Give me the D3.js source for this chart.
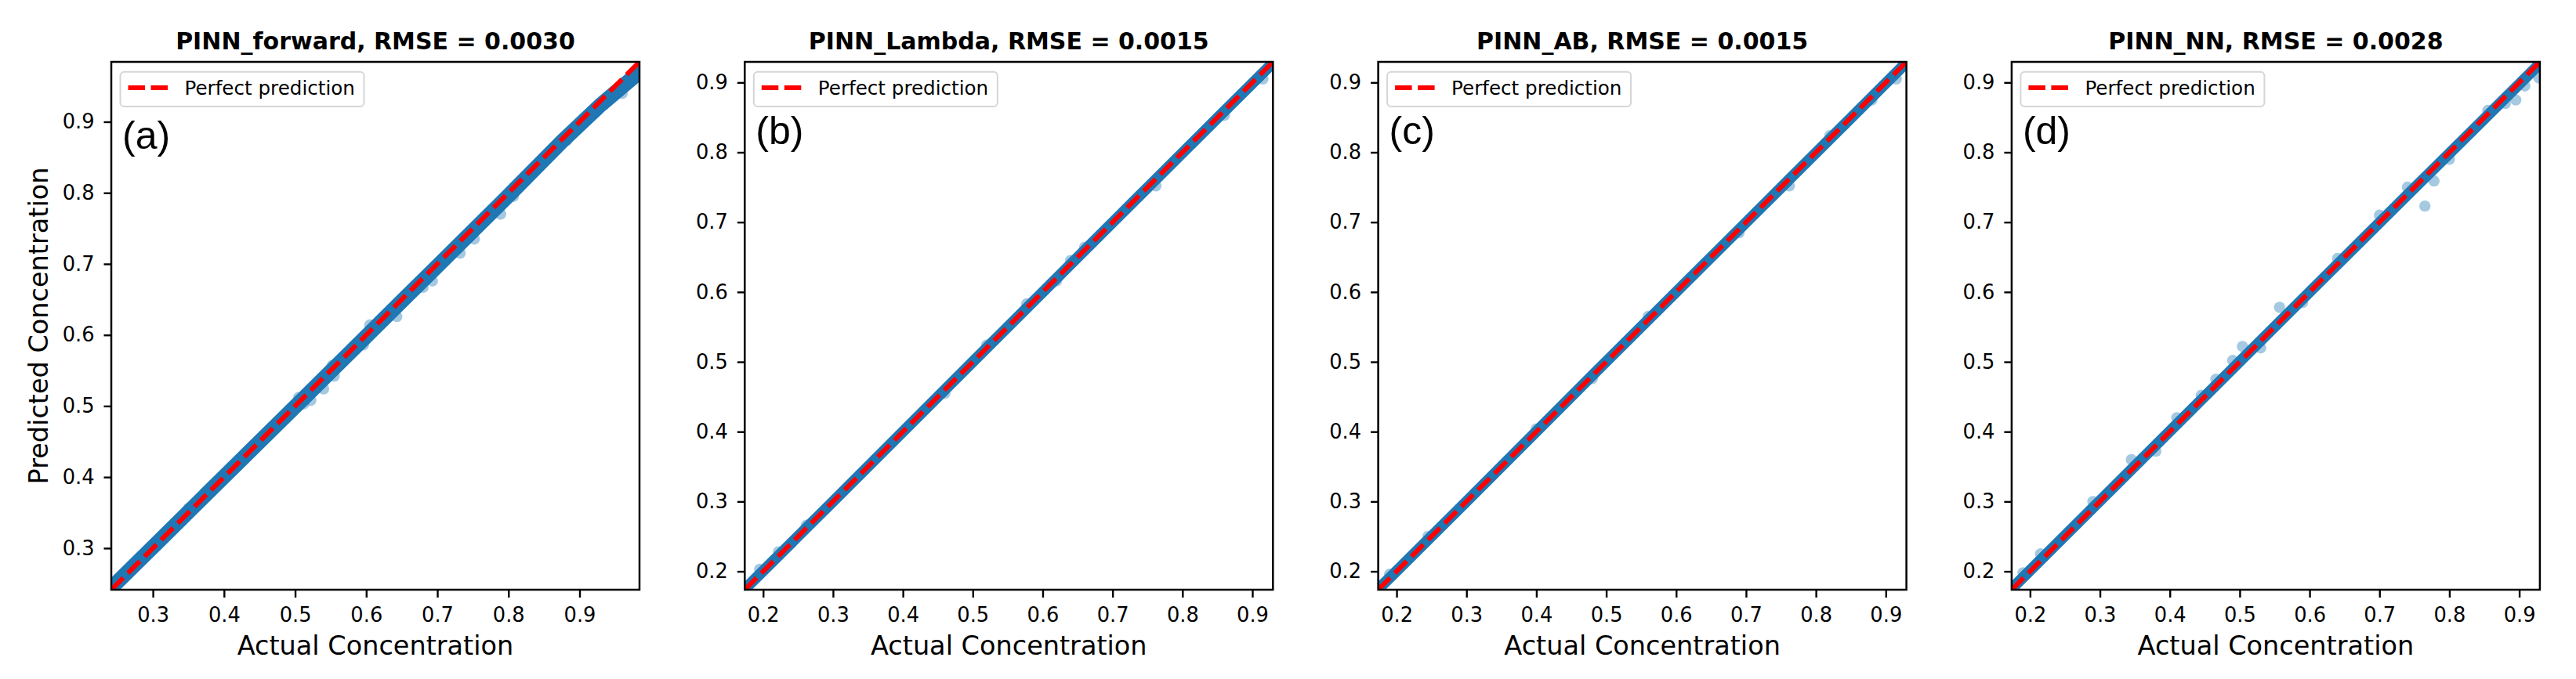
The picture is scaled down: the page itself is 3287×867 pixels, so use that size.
<!DOCTYPE html>
<html>
<head>
<meta charset="utf-8">
<script src="https://cdn.jsdelivr.net/npm/d3@7/dist/d3.min.js"></script>
<style>
    body { margin: 0; background: #fff; }
    svg text { font-family: "DejaVu Sans", sans-serif; fill: #000; }
</style>
</head>
<body>
<div id="canvas"></div>
<script>
"use strict";

// titles + panel tags
var titles = ["PINN_forward, RMSE = 0.0030", "PINN_Lambda, RMSE = 0.0015",
              "PINN_AB, RMSE = 0.0015", "PINN_NN, RMSE = 0.0028"];
var panelTags = ["(a)", "(b)", "(c)", "(d)"];

// axis limits (same on x and y)
var limitsA = [0.2415, 0.9843];
var limitsBCD = [0.1737, 0.9295];

var ticksA = [0.3, 0.4, 0.5, 0.6, 0.7, 0.8, 0.9];
var ticksBCD = [0.2, 0.3, 0.4, 0.5, 0.6, 0.7, 0.8, 0.9];

// dense core of the scatter cloud: [actual, predicted]
var bandA = [[0.2415, 0.2440], [0.30, 0.3015], [0.40, 0.4005], [0.50, 0.4990],
             [0.60, 0.5980], [0.70, 0.6970], [0.80, 0.7960], [0.875, 0.8720],
             [0.93, 0.9240], [0.9843, 0.9700]];
var bandB = [[0.1737, 0.1745], [0.30, 0.3000], [0.50, 0.5000], [0.70, 0.6995],
             [0.85, 0.8490], [0.9295, 0.9280]];
var bandC = [[0.1737, 0.1745], [0.30, 0.3000], [0.50, 0.5005], [0.70, 0.6995],
             [0.85, 0.8490], [0.9295, 0.9285]];
var bandD = [[0.1737, 0.1750], [0.30, 0.3010], [0.45, 0.4505], [0.60, 0.6000],
             [0.75, 0.7490], [0.85, 0.8480], [0.9295, 0.9270]];

// single points standing out from the core: [actual, predicted]
var dotsA = [[0.350, 0.356], [0.450, 0.452], [0.505, 0.512], [0.512, 0.503],
             [0.522, 0.508], [0.540, 0.524], [0.552, 0.557], [0.555, 0.542],
             [0.596, 0.586], [0.605, 0.614], [0.643, 0.626], [0.680, 0.667],
             [0.693, 0.676], [0.732, 0.715], [0.752, 0.735], [0.789, 0.770],
             [0.807, 0.795], [0.882, 0.874], [0.960, 0.940]];
var dotsB = [[0.195, 0.203], [0.222, 0.228], [0.262, 0.266], [0.460, 0.455],
             [0.520, 0.524], [0.577, 0.583], [0.620, 0.616], [0.640, 0.645],
             [0.660, 0.664], [0.762, 0.752], [0.860, 0.853], [0.915, 0.905]];
var dotsC = [[0.190, 0.196], [0.245, 0.250], [0.400, 0.404], [0.480, 0.476],
             [0.560, 0.565], [0.690, 0.685], [0.762, 0.752], [0.820, 0.824],
             [0.880, 0.875], [0.915, 0.905]];
var dotsD = [[0.190, 0.198], [0.215, 0.225], [0.290, 0.300], [0.345, 0.360],
             [0.380, 0.372], [0.410, 0.420], [0.445, 0.452], [0.466, 0.475],
             [0.490, 0.502], [0.504, 0.522], [0.530, 0.520], [0.557, 0.578],
             [0.590, 0.585], [0.640, 0.648], [0.700, 0.710], [0.740, 0.750],
             [0.765, 0.723], [0.778, 0.759], [0.800, 0.790], [0.855, 0.860],
             [0.880, 0.870], [0.895, 0.875], [0.908, 0.895], [0.928, 0.9065]];

var panels = [
    {limits: limitsA, ticks: ticksA, band: bandA, dots: dotsA, bandWidth: 19, tagY: 111},
    {limits: limitsBCD, ticks: ticksBCD, band: bandB, dots: dotsB, bandWidth: 14, tagY: 105},
    {limits: limitsBCD, ticks: ticksBCD, band: bandC, dots: dotsC, bandWidth: 14, tagY: 105},
    {limits: limitsBCD, ticks: ticksBCD, band: bandD, dots: dotsD, bandWidth: 14, tagY: 105}
];

var width = 3287, height = 867;
var size = 674, top0 = 79, left0 = 142, step = 808.3;
var blue = "#1f77b4";

var svg = d3.select("#canvas").append("svg")
    .attr("width", width)
    .attr("height", height);
svg.append("rect").attr("width", width).attr("height", height).attr("fill", "#fff");

panels.forEach(function(p, i) {
    var g = svg.append("g")
        .attr("transform", "translate(" + (left0 + i * step) + "," + top0 + ")");

    var x = d3.scaleLinear().domain(p.limits).range([0, size]);
    var y = d3.scaleLinear().domain(p.limits).range([size, 0]);

    g.append("clipPath").attr("id", "clip" + i)
        .append("rect").attr("width", size).attr("height", size);
    var plot = g.append("g").attr("clip-path", "url(#clip" + i + ")");

    var line = d3.line()
        .x(function(d) { return x(d[0]); })
        .y(function(d) { return y(d[1]); });

    // light single points
    plot.selectAll("circle").data(p.dots).enter().append("circle")
        .attr("cx", function(d) { return x(d[0]); })
        .attr("cy", function(d) { return y(d[1]); })
        .attr("r", 7.2)
        .attr("fill", blue)
        .attr("fill-opacity", 0.4);

    // overlapping points -> solid core
    plot.append("path").datum(p.band)
        .attr("d", line)
        .attr("fill", "none")
        .attr("stroke", blue)
        .attr("stroke-width", p.bandWidth)
        .attr("stroke-linejoin", "round")
        .attr("stroke-linecap", "round");

    // perfect prediction
    plot.append("path").datum([[p.limits[0], p.limits[0]], [p.limits[1], p.limits[1]]])
        .attr("d", line)
        .attr("fill", "none")
        .attr("stroke", "red")
        .attr("stroke-width", 6)
        .attr("stroke-dasharray", "21.5,8.5");

    // axes
    var xAxis = g.append("g").attr("transform", "translate(0," + size + ")")
        .call(d3.axisBottom(x).tickValues(p.ticks).tickSize(10).tickPadding(13)
            .tickFormat(d3.format(".1f")));
    var yAxis = g.append("g")
        .call(d3.axisLeft(y).tickValues(p.ticks).tickSize(9.5).tickPadding(12)
            .tickFormat(d3.format(".1f")));
    [xAxis, yAxis].forEach(function(a) {
        a.select(".domain").remove();
        a.selectAll(".tick line").attr("stroke", "#000").attr("stroke-width", 2.4);
        a.selectAll(".tick text")
            .style("font-family", "DejaVu Sans")
            .style("font-size", "25.7px")
            .attr("fill", "#000");
    });

    g.append("rect")
        .attr("width", size).attr("height", size)
        .attr("fill", "none")
        .attr("stroke", "#000")
        .attr("stroke-width", 2.5);

    // title
    g.append("text")
        .attr("x", size / 2).attr("y", -16.3)
        .attr("text-anchor", "middle")
        .style("font-size", "30px")
        .style("font-weight", "bold")
        .text(titles[i]);

    g.append("text")
        .attr("x", size / 2).attr("y", 757)
        .attr("text-anchor", "middle")
        .style("font-size", "33.5px")
        .text("Actual Concentration");

    if (i === 0) {
        g.append("text")
            .attr("transform", "translate(-81," + (size / 2) + ") rotate(-90)")
            .attr("text-anchor", "middle")
            .style("font-size", "33.5px")
            .text("Predicted Concentration");
    }

    g.append("text")
        .attr("x", 14).attr("y", p.tagY)
        .style("font-family", "'Liberation Sans', Arial, sans-serif")
        .style("font-size", "50px")
        .text(panelTags[i]);

    // legend
    var leg = g.append("g");
    leg.append("rect")
        .attr("x", 11.5).attr("y", 12.7)
        .attr("width", 311).attr("height", 44.3)
        .attr("rx", 5)
        .attr("fill", "#fff").attr("fill-opacity", 0.8)
        .attr("stroke", "#d6d6d6").attr("stroke-width", 2);
    leg.append("line")
        .attr("x1", 21.5).attr("x2", 72).attr("y1", 33).attr("y2", 33)
        .attr("stroke", "red").attr("stroke-width", 6)
        .attr("stroke-dasharray", "21.5,7.5");
    leg.append("text")
        .attr("x", 93.5).attr("y", 41.7)
        .style("font-size", "24.6px")
        .text("Perfect prediction");
});
</script>
</body>
</html>
